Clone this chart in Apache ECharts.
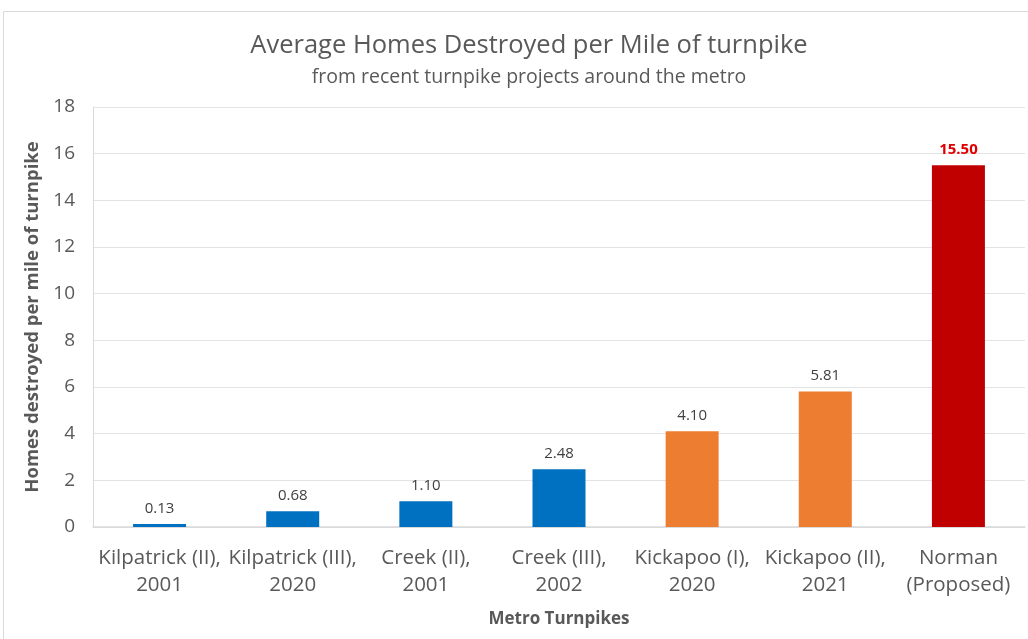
<!DOCTYPE html>
<html>
<head>
<meta charset="utf-8">
<script src="https://cdn.jsdelivr.net/npm/echarts@6/dist/echarts.min.js"></script>
<style>
  html, body { margin: 0; padding: 0; background: #fff; }
  #chart { width: 1028px; height: 639px; }
</style>
</head>
<body>
<div id="chart"></div>
<script>
// values
const categories = [
  'Kilpatrick (II),\n2001',
  'Kilpatrick (III),\n2020',
  'Creek (II),\n2001',
  'Creek (III),\n2002',
  'Kickapoo (I),\n2020',
  'Kickapoo (II),\n2021',
  'Norman\n(Proposed)'
];
const homesPerMile = [0.13, 0.68, 1.10, 2.48, 4.10, 5.81, 15.50];
const barColors = ['#0070C0', '#0070C0', '#0070C0', '#0070C0', '#ED7D31', '#ED7D31', '#C00000'];
const highlighted = [false, false, false, false, false, false, true];

const font = '"Open Sans", "Noto Sans", sans-serif';
const chart = echarts.init(document.getElementById('chart'), null, { renderer: 'canvas' });

chart.setOption({
  animation: false,
  textStyle: { fontFamily: font },
  title: {
    text: 'Average Homes Destroyed per Mile of turnpike',
    subtext: 'from recent turnpike projects around the metro',
    left: 524,
    top: 28,
    textAlign: 'center',
    itemGap: 8,
    textStyle: { fontFamily: font, fontSize: 25.5, fontWeight: 'normal', color: '#595959' },
    subtextStyle: { fontFamily: font, fontSize: 19.5, color: '#595959' }
  },
  graphic: [{
    type: 'rect',
    shape: { x: 3.5, y: 11.5, width: 1030, height: 640 },
    style: { fill: 'none', stroke: '#d9d9d9', lineWidth: 1 },
    silent: true
  }],
  grid: { left: 93, right: 3, top: 107, bottom: 112 },
  xAxis: {
    type: 'category',
    data: categories,
    name: 'Metro Turnpikes',
    nameLocation: 'middle',
    nameGap: 84,
    nameTextStyle: { fontFamily: font, fontSize: 17, fontWeight: 'bold', color: '#595959' },
    axisLine: { lineStyle: { color: '#d9d9d9', width: 1.5 } },
    axisTick: { show: false },
    axisLabel: {
      interval: 0,
      margin: 18,
      fontSize: 20.5,
      lineHeight: 27,
      color: '#595959',
      fontFamily: font
    }
  },
  yAxis: {
    type: 'value',
    min: 0,
    max: 18,
    interval: 2,
    name: 'Homes destroyed per mile of turnpike',
    nameLocation: 'middle',
    nameGap: 48,
    nameTextStyle: { fontFamily: font, fontSize: 18.5, fontWeight: 'bold', color: '#595959' },
    axisLine: { show: true, lineStyle: { color: '#d9d9d9' } },
    axisTick: { show: false },
    axisLabel: { fontSize: 19, color: '#595959', margin: 18, fontFamily: font },
    splitLine: { lineStyle: { color: '#e3e3e3', width: 1 } }
  },
  series: [{
    type: 'bar',
    barWidth: 53,
    data: homesPerMile.map((v, i) => ({
      value: v,
      itemStyle: { color: barColors[i] },
      label: highlighted[i]
        ? { color: '#E00000', fontWeight: 'bold' }
        : { color: '#404040', fontWeight: 'normal' }
    })),
    label: {
      show: true,
      position: 'top',
      distance: 8,
      fontSize: 15,
      fontFamily: font,
      formatter: p => p.value.toFixed(2)
    }
  }]
});
</script>
</body>
</html>
